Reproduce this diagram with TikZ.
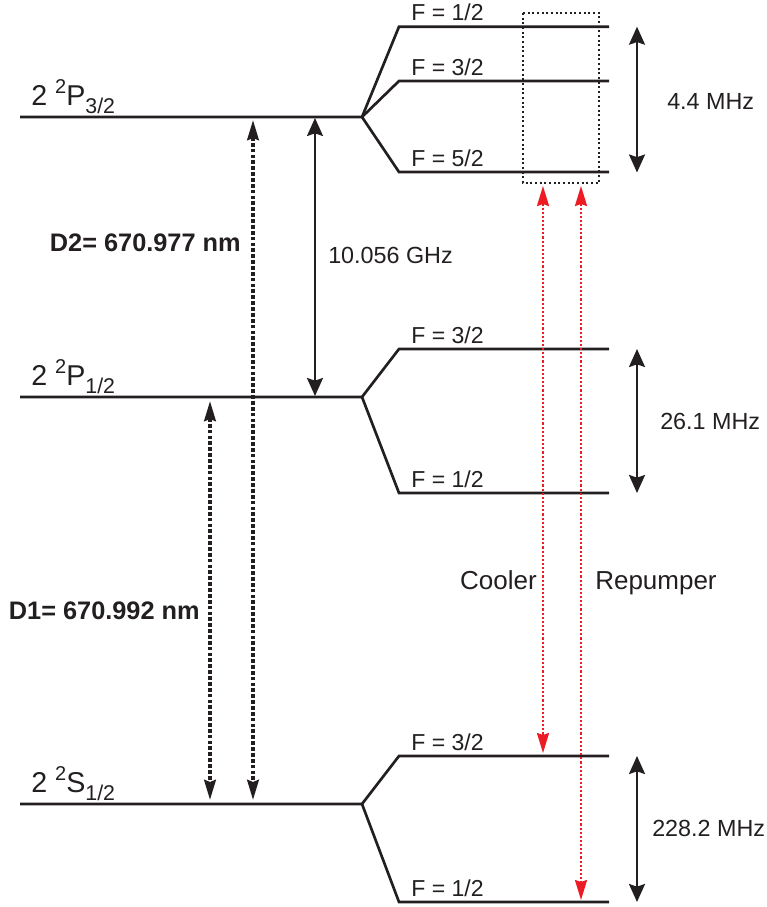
\documentclass[tikz,border=0pt]{standalone}
\usepackage{fontspec}
\setmainfont{Liberation Sans}
\usetikzlibrary{arrows.meta}
\definecolor{ink}{HTML}{231F20}
\definecolor{laser}{HTML}{ED1C24}
\newcommand{\levlab}[3]{#1 \raisebox{9pt}{\fontsize{15pt}{16pt}\selectfont #2}#3}
\newcommand{\lsub}[1]{\raisebox{-6.5pt}{\fontsize{16pt}{17pt}\selectfont #1}}
\begin{document}
\begin{tikzpicture}[x=0.75pt,y=-0.75pt,
  level/.style={draw=ink, line width=2pt},
  splitarrow/.style={draw=ink, line width=1.6pt, {Stealth[length=13.5pt,width=12pt,inset=2pt]}-{Stealth[length=13.5pt,width=12pt,inset=2pt]}},
  dotarrow/.style={draw=ink, line width=2.8pt, dash pattern=on 2.8pt off 1.6pt, {Stealth[length=15pt,width=8.6pt,inset=1.5pt]}-{Stealth[length=15pt,width=8.6pt,inset=1.5pt]}},
  laserarrow/.style={draw=laser, line width=1.6pt, dash pattern=on 1.6pt off 1.5pt, {Stealth[length=15pt,width=9pt,inset=1.5pt]}-{Stealth[length=15pt,width=9pt,inset=1.5pt]}},
  dotbox/.style={draw=ink, line width=1.5pt, dash pattern=on 1.5pt off 2pt},
  flab/.style={anchor=base west, inner sep=0pt, text=ink, font=\fontsize{17.3pt}{20pt}\selectfont},
  mlab/.style={anchor=base west, inner sep=0pt, text=ink, font=\fontsize{17.5pt}{20pt}\selectfont},
  dlab/.style={anchor=base east, inner sep=0pt, text=ink, font=\fontsize{19pt}{22pt}\selectfont\bfseries},
  llab/.style={inner sep=0pt, text=ink, font=\fontsize{19.5pt}{22pt}\selectfont},
  lvlab/.style={anchor=base west, inner sep=0pt, text=ink, font=\fontsize{21.5pt}{24pt}\selectfont}
]
\useasboundingbox (0,0) rectangle (767,907);

% ---- 2 2P3/2 ----
\coordinate (P3a) at (20,117);
\coordinate (P3s) at (362,117);
\coordinate (P3f1a) at (399,26.7);  \coordinate (P3f1b) at (609,26.7);
\coordinate (P3f3a) at (399,81);    \coordinate (P3f3b) at (609,81);
\coordinate (P3f5a) at (399,172);   \coordinate (P3f5b) at (609,172);
\draw[level] (P3a) -- (P3s) -- (P3f1a) -- (P3f1b);
\draw[level] (P3s) -- (P3f3a) -- (P3f3b);
\draw[level] (P3s) -- (P3f5a) -- (P3f5b);

% ---- 2 2P1/2 ----
\coordinate (P1a) at (20,397);
\coordinate (P1s) at (362,397);
\coordinate (P1f3a) at (399,349);   \coordinate (P1f3b) at (609,349);
\coordinate (P1f1a) at (399,493);   \coordinate (P1f1b) at (609,493);
\draw[level] (P1a) -- (P1s) -- (P1f3a) -- (P1f3b);
\draw[level] (P1s) -- (P1f1a) -- (P1f1b);

% ---- 2 2S1/2 ----
\coordinate (S1a) at (20,804);
\coordinate (S1s) at (362,804);
\coordinate (Sf3a) at (399,756);    \coordinate (Sf3b) at (609,756);
\coordinate (Sf1a) at (399,902);    \coordinate (Sf1b) at (609,902);
\draw[level] (S1a) -- (S1s) -- (Sf3a) -- (Sf3b);
\draw[level] (S1s) -- (Sf1a) -- (Sf1b);

% ---- level labels ----
\node[lvlab] (lP3) at (31,105) {\levlab{2}{2}{P}\lsub{3/2}};
\node[lvlab] (lP1) at (31,385) {\levlab{2}{2}{P}\lsub{1/2}};
\node[lvlab] (lS1) at (31,792) {\levlab{2}{2}{S}\lsub{1/2}};

% ---- F labels ----
\node[flab] (t1) at (411,20)  {F = 1/2};
\node[flab] (t2) at (411,75)  {F = 3/2};
\node[flab] (t3) at (411,166) {F = 5/2};
\node[flab] (t4) at (411,343) {F = 3/2};
\node[flab] (t5) at (411,487) {F = 1/2};
\node[flab] (t6) at (411,750) {F = 3/2};
\node[flab] (t7) at (411,896) {F = 1/2};

% ---- hyperfine splitting arrows ----
\coordinate (h1t) at (637,26.7); \coordinate (h1b) at (637,172.5);
\coordinate (h2t) at (637,349);  \coordinate (h2b) at (637,493);
\coordinate (h3t) at (637,756);  \coordinate (h3b) at (637,902);
\draw[splitarrow] (h1t) -- (h1b);
\draw[splitarrow] (h2t) -- (h2b);
\draw[splitarrow] (h3t) -- (h3b);
\node[mlab] (m1) at (667,109.3) {4.4 MHz};
\node[mlab] (m2) at (660,429)   {26.1 MHz};
\node[mlab] (m3) at (652,836)   {228.2 MHz};

% ---- fine structure ----
\coordinate (fsT) at (315,118); \coordinate (fsB) at (315,396);
\draw[splitarrow] (fsT) -- (fsB);
\node[mlab] (gz) at (328,263) {10.056 GHz};

% ---- D lines ----
\coordinate (d2T) at (253,120); \coordinate (d2B) at (253,800);
\coordinate (d1T) at (210,401); \coordinate (d1B) at (210,800);
\draw[dotarrow] (d2T) -- (d2B);
\draw[dotarrow] (d1T) -- (d1B);
\node[dlab] (D2) at (241,251) {D2= 670.977 nm};
\node[dlab] (D1) at (200,619) {D1= 670.992 nm};

% ---- laser box and arrows ----
\coordinate (bx1) at (523,13); \coordinate (bx2) at (599,183);
\draw[dotbox] (bx1) rectangle (bx2);
\coordinate (cT) at (543,186); \coordinate (cB) at (543,753);
\coordinate (rT) at (581,186); \coordinate (rB) at (581,900);
\draw[laserarrow] (cT) -- (cB);
\draw[laserarrow] (rT) -- (rB);
\node[llab, anchor=base east] (cool) at (537,589) {Cooler};
\node[llab, anchor=base west] (rep) at (595,589) {Repumper};
\end{tikzpicture}
\end{document}
